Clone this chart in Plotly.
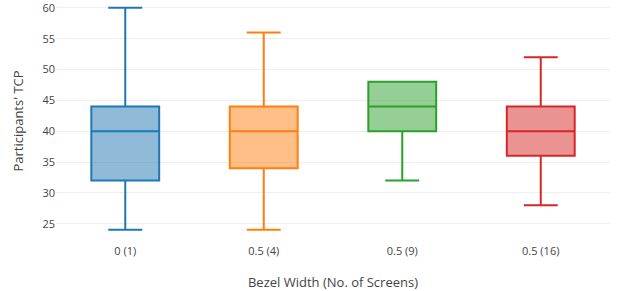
import plotly.graph_objects as go

categories = ["0 (1)", "0.5 (4)", "0.5 (9)", "0.5 (16)"]
lower = [24, 24, 32, 28]
q1 = [32, 34, 40, 36]
median = [40, 40, 44, 40]
q3 = [44, 44, 48, 44]
upper = [60, 56, 48, 52]
colors = ["#1f77b4", "#ff7f0e", "#2ca02c", "#d62728"]

fig = go.Figure()
for i, c in enumerate(categories):
    fig.add_trace(go.Box(
        x=[c], q1=[q1[i]], median=[median[i]], q3=[q3[i]],
        lowerfence=[lower[i]], upperfence=[upper[i]],
        name=c, marker_color=colors[i], line=dict(width=2),
        whiskerwidth=0.5, width=0.49,
    ))

fig.update_layout(
    width=618, height=291,
    margin=dict(l=56, r=8, t=6, b=55, autoexpand=False),
    showlegend=False,
    plot_bgcolor="white", paper_bgcolor="white",
    font=dict(family="Open Sans", color="#444", size=11),
    xaxis=dict(title=dict(text="Bezel Width (No. of Screens)", font=dict(size=13), standoff=20),
               showgrid=False, showline=False, zeroline=False, ticklabelstandoff=7,
               automargin=False, range=[-0.5, 3.5],
               categoryorder="array", categoryarray=categories),
    yaxis=dict(title=dict(text="Participants' TCP", font=dict(size=13)),
               range=[23, 60.3], dtick=5, tick0=0, ticklabeloverflow="allow",
               automargin=False,
               gridcolor="#eeeeee", zeroline=False, showline=False),
)
fig.write_html("out.html")
